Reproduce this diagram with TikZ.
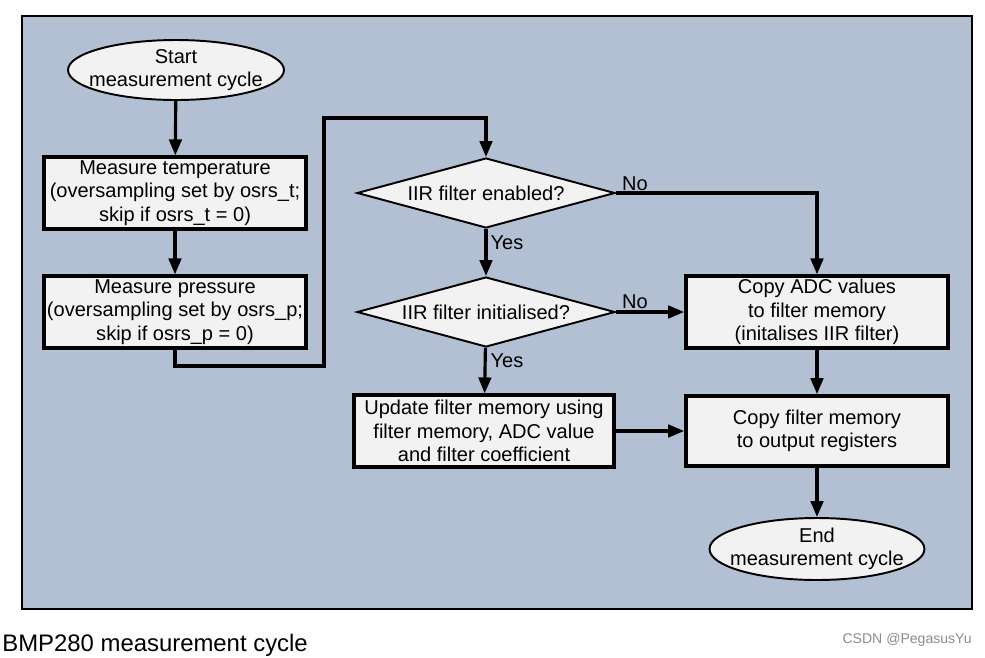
\documentclass[tikz,border=0pt]{standalone}
\usepackage{fontspec}
\setmainfont{Liberation Sans}
\usepackage{tikz}
\usetikzlibrary{arrows.meta, shapes.geometric, positioning}
\definecolor{panelblue}{HTML}{B3BFD2}
\definecolor{boxgray}{HTML}{F2F2F2}
\tikzstyle{step box}=[rectangle, draw=black, line width=2.1pt, fill=boxgray, align=center, inner sep=0pt, minimum width=5.24cm, minimum height=1.43cm, font=\fontsize{11.4}{13.3}\selectfont]
\tikzstyle{terminal}=[ellipse, draw=black, line width=1.1pt, fill=boxgray, align=center, inner xsep=-0.6cm, inner ysep=-0.3cm, minimum width=4.32cm, minimum height=1.2cm, font=\fontsize{11.4}{13.3}\selectfont]
\tikzstyle{decision}=[diamond, draw=black, line width=1.1pt, fill=boxgray, aspect=3.7, inner sep=0pt, minimum width=5.16cm, minimum height=1.4cm, font=\fontsize{11.4}{13.3}\selectfont]
\tikzstyle{lbl}=[inner sep=0pt, font=\fontsize{11.4}{13.3}\selectfont]
\tikzstyle{arr}=[-{Triangle[length=0.32cm,width=0.25cm]}, line width=1.8pt]

\begin{document}
\begin{tikzpicture}[x=0.02cm, y=-0.02cm]
\useasboundingbox (0,0) rectangle (985,657);
\fill[white] (0,0) rectangle (985,657);
\draw[fill=panelblue, line width=0.6pt] (22,16) rectangle (972,609);

\node[terminal] (start) at (176,70) {Start\\measurement cycle};
\node[step box] (temp) at (175,193) {Measure temperature\\(oversampling set by osrs\_t;\\skip if osrs\_t = 0)};
\node[step box] (press) at (175,312) {Measure pressure\\(oversampling set by osrs\_p;\\skip if osrs\_p = 0)};
\node[decision] (enabled) at (486,193) {IIR filter enabled?};
\node[decision] (initd) at (486,312) {IIR filter initialised?};
\node[step box, minimum width=5.2cm] (update) at (484,431) {Update filter memory using\\filter memory, ADC value\\and filter coefficient};
\node[step box] (copyadc) at (817,312) {Copy ADC values\\to filter memory\\(initalises IIR filter)};
\node[step box, minimum height=1.4cm] (copyout) at (817,431) {Copy filter memory\\to output registers};
\node[terminal, minimum width=4.3cm, minimum height=1.24cm] (finish) at (817,549) {End\\measurement cycle};

\node[lbl] (no1) at (635,184) {No};
\node[lbl] (yes1) at (507,243) {Yes};
\node[lbl] (no2) at (635,302) {No};
\node[lbl] (yes2) at (507,361) {Yes};

\coordinate (c1) at (324,366);
\coordinate (c2) at (324,118);

\draw[arr] (start) -- (temp);
\draw[arr] (temp) -- (press);
\draw[arr] (press.south) |- (c1) -- (c2) -| (enabled.north);
\draw[arr] (enabled) -- (initd);
\draw[arr] (enabled.east) -| (copyadc.north);
\draw[arr] (initd.east) -- (copyadc.west);
\draw[arr] (initd) -- (update);
\draw[arr] (update) -- (copyout);
\draw[arr] (copyadc) -- (copyout);
\draw[arr] (copyout) -- (finish);

\node[anchor=west, inner sep=0pt, font=\fontsize{13.6}{16}\selectfont] (caption) at (2,645) {BMP280 measurement cycle};
\node[anchor=east, inner sep=0pt, text=black!45, font=\fontsize{8}{10}\selectfont] (mark) at (972,640) {CSDN @PegasusYu};
\end{tikzpicture}
\end{document}
